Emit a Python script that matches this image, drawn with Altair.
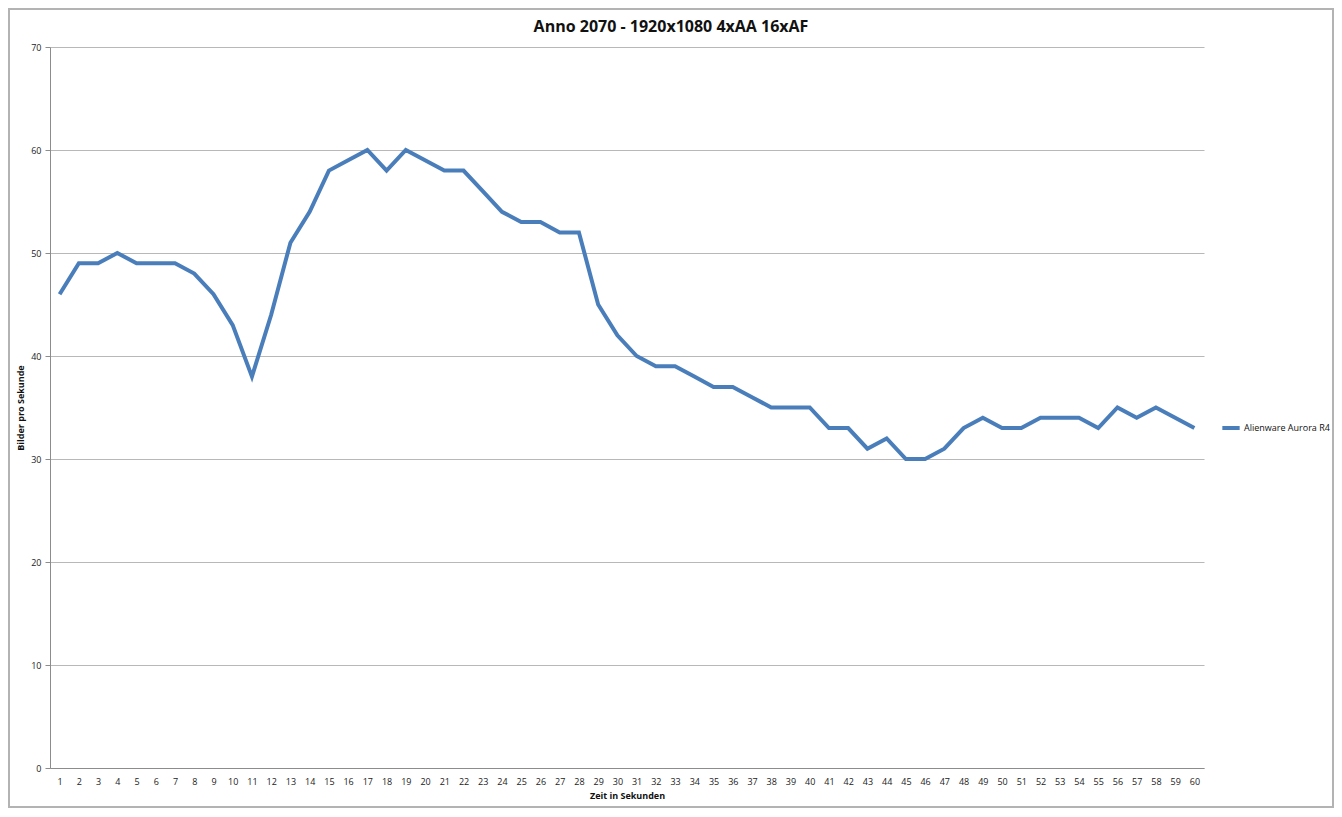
import altair as alt
import pandas as pd

seconds = list(range(1, 61))
fps = [46, 49, 49, 50, 49, 49, 49, 48, 46, 43,
       38, 44, 51, 54, 58, 59, 60, 58, 60, 59,
       58, 58, 56, 54, 53, 53, 52, 52, 45, 42,
       40, 39, 39, 38, 37, 37, 36, 35, 35, 35,
       33, 33, 31, 32, 30, 30, 31, 33, 34, 33,
       33, 34, 34, 34, 33, 35, 34, 35, 34, 33]
series_name = "Alienware Aurora R4"
title_text = "Anno 2070 - 1920x1080 4xAA 16xAF"

df = pd.DataFrame({"Zeit": seconds, "FPS": fps, "Serie": [series_name] * len(seconds)})

W, H = 1154, 721
FONT = "Open Sans"

line = alt.Chart(df).mark_line(strokeWidth=4, color="#4a7ebb").encode(
    x=alt.X("Zeit:O", title="Zeit in Sekunden",
            scale=alt.Scale(type="point", padding=0.5),
            axis=alt.Axis(labelAngle=0, grid=False, ticks=False, labelPadding=9,
                          labelFontSize=9, titleFontSize=9, titleFontWeight="bold",
                          titlePadding=5, domainColor="#8c8c8c", labelColor="#222",
                          titleColor="#111", labelFont=FONT, titleFont=FONT)),
    y=alt.Y("FPS:Q", title="Bilder pro Sekunde",
            scale=alt.Scale(domain=[0, 70], nice=False),
            axis=alt.Axis(values=list(range(0, 71, 10)), grid=True, gridColor="#b8b8b8",
                          tickColor="#8c8c8c", tickSize=5, labelPadding=4,
                          labelFontSize=9, titleFontSize=9, titleFontWeight="bold",
                          titlePadding=5, domainColor="#8c8c8c", labelColor="#222",
                          titleColor="#111", labelFont=FONT, titleFont=FONT)),
    color=alt.Color("Serie:N", scale=alt.Scale(range=["#4a7ebb"]),
                    legend=alt.Legend(title=None, orient="none", legendX=1170, legendY=370,
                                      symbolType="stroke", symbolStrokeWidth=4, symbolSize=300,
                                      labelFontSize=9, labelFont=FONT, labelColor="#111",
                                      labelOffset=2)),
)

frame = alt.Chart(df).mark_rect(fill=None, stroke="#b3b3b3", strokeWidth=2).encode(
    x=alt.value(-41), x2=alt.value(1283), y=alt.value(-38), y2=alt.value(760)
)

chart = alt.layer(line, frame).properties(
    width=W, height=H,
    title=alt.TitleParams(title_text, fontSize=16, fontWeight="bold", font=FONT,
                          anchor="middle", offset=-27, dx=44, color="#111"),
    padding={"left": 42, "top": 39, "right": 130, "bottom": 41},
    autosize=alt.AutoSizeParams(type="none"),
    background="white",
).configure_view(stroke=None)

chart.save("out.html", embed_options={"renderer": "svg", "actions": False})
